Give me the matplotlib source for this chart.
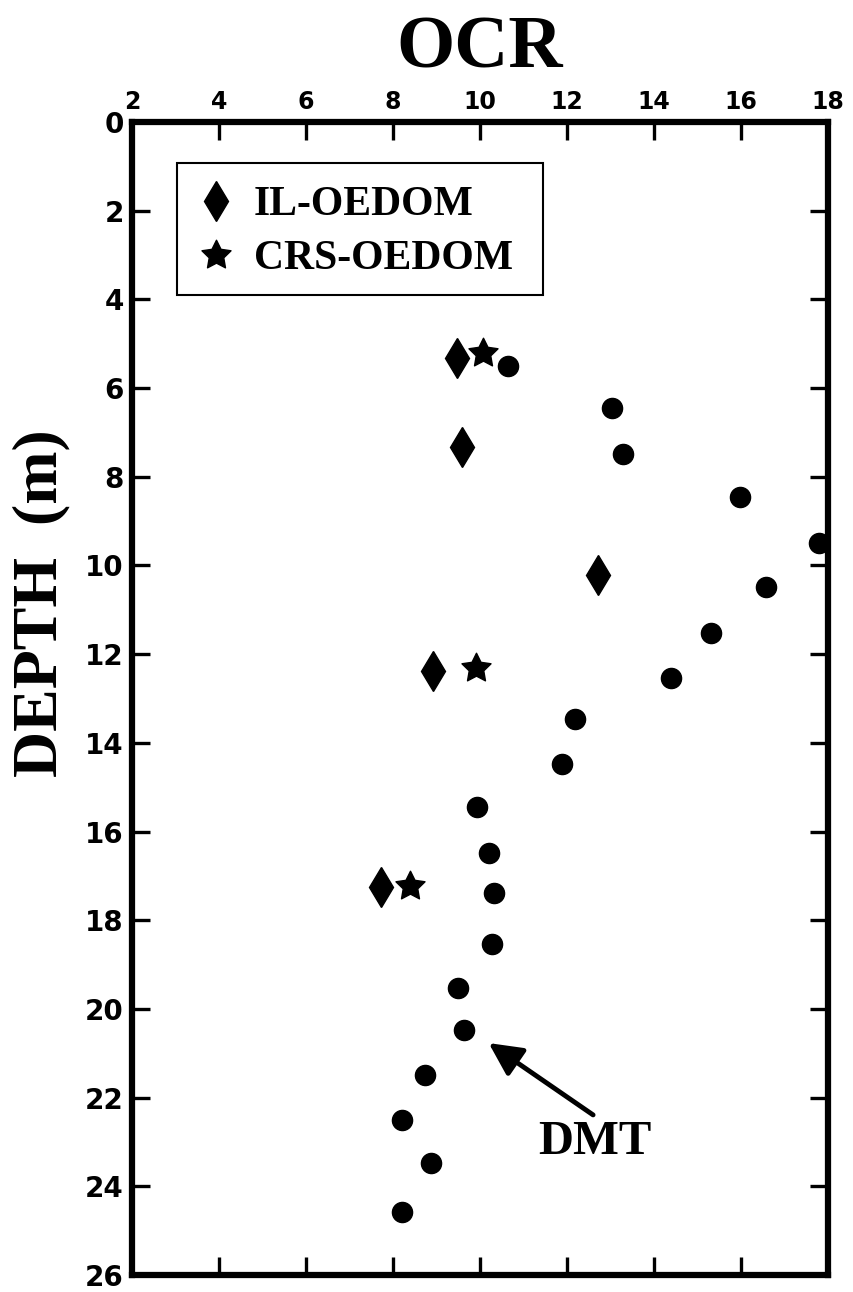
import matplotlib
matplotlib.use('Agg')
import matplotlib.pyplot as plt
from matplotlib.lines import Line2D
from matplotlib.patches import Rectangle
from matplotlib.path import Path

# DMT (circles)
dmt_ocr = [10.64, 13.03, 13.29, 15.98, 17.79, 16.57, 15.31, 14.39, 12.18, 11.89,
           9.93, 10.21, 10.32, 10.28, 9.49, 9.63, 8.74, 8.21, 8.87, 8.21]
dmt_depth = [5.5, 6.45, 7.49, 8.46, 9.5, 10.48, 11.52, 12.54, 13.46, 14.48,
             15.45, 16.48, 17.39, 18.53, 19.53, 20.47, 21.49, 22.5, 23.47, 24.58]

# IL-OEDOM (diamonds)
il_ocr = [9.47, 9.59, 12.71, 8.92, 7.72]
il_depth = [5.32, 7.33, 10.21, 12.38, 17.25]

# CRS-OEDOM (stars)
crs_ocr = [10.07, 9.91, 8.39]
crs_depth = [5.21, 12.31, 17.23]

x_ticks = [2, 4, 6, 8, 10, 12, 14, 16, 18]
y_ticks = [0, 2, 4, 6, 8, 10, 12, 14, 16, 18, 20, 22, 24, 26]

serif = 'Liberation Serif'
star = Path.unit_regular_star(5, innerCircle=0.5)

fig = plt.figure(figsize=(8.54, 12.92), dpi=100)
ax = fig.add_axes([132 / 854, 1 - 1275 / 1292, 696 / 854, 1153 / 1292])

ax.plot(dmt_ocr, dmt_depth, 'o', color='black', ms=14.5, clip_on=False, zorder=5)
ax.plot(il_ocr, il_depth, 'd', color='black', ms=20, clip_on=False, zorder=5)
ax.plot(crs_ocr, crs_depth, marker=star, ls='none', color='black', ms=22,
        clip_on=False, zorder=5)

ax.set_xlim(2, 18)
ax.set_ylim(26, 0)
ax.set_xticks(x_ticks)
ax.set_yticks(y_ticks)
ax.xaxis.tick_top()
ax.tick_params(axis='both', direction='in', length=13, width=2.4,
               top=True, bottom=True, left=True, right=True)
ax.tick_params(axis='x', labeltop=True, labelbottom=False, pad=6)
ax.tick_params(axis='y', labelleft=True, labelright=False, pad=6)
for lab in ax.get_xticklabels():
    lab.set_fontweight('heavy')
    lab.set_fontsize(17)
for lab in ax.get_yticklabels():
    lab.set_fontweight('heavy')
    lab.set_fontsize(20)
for sp in ax.spines.values():
    sp.set_linewidth(4.5)

# titles
fig.text(480 / 854, 1 - 67 / 1292, 'OCR', family=serif, weight='bold',
         fontsize=54, ha='center', va='baseline')
fig.text(41 / 854, 1 - 603 / 1292, 'DEPTH  (m)', family=serif, weight='bold',
         fontsize=46, rotation=90, ha='center', va='center')

# DMT arrow
ax.annotate('', xy=(10.2, 20.77), xytext=(12.6, 22.39),
            arrowprops=dict(arrowstyle='-|>', lw=3.5, color='black',
                            mutation_scale=50, shrinkA=0, shrinkB=0))
ax.text(12.64, 23.0, 'DMT', family=serif, weight='bold', fontsize=35,
        ha='center', va='center')

# legend (box drawn separately)
handles = [
    Line2D([], [], marker='d', ls='none', color='black', ms=20),
    Line2D([], [], marker=star, ls='none', color='black', ms=22),
]
ax.legend(handles, ['IL-OEDOM', 'CRS-OEDOM'], loc='upper left',
          bbox_to_anchor=(0.0647, 0.9644), borderaxespad=0,
          prop={'family': serif, 'weight': 'bold', 'size': 30},
          frameon=False, handlelength=0.75, handletextpad=0.55,
          borderpad=0.55, labelspacing=0.38)
ax.add_patch(Rectangle((0.0647, 0.85), 0.5258, 0.1144, transform=ax.transAxes,
                       fill=False, edgecolor='black', lw=1.5, zorder=6))

fig.savefig('out.png', dpi=100)
